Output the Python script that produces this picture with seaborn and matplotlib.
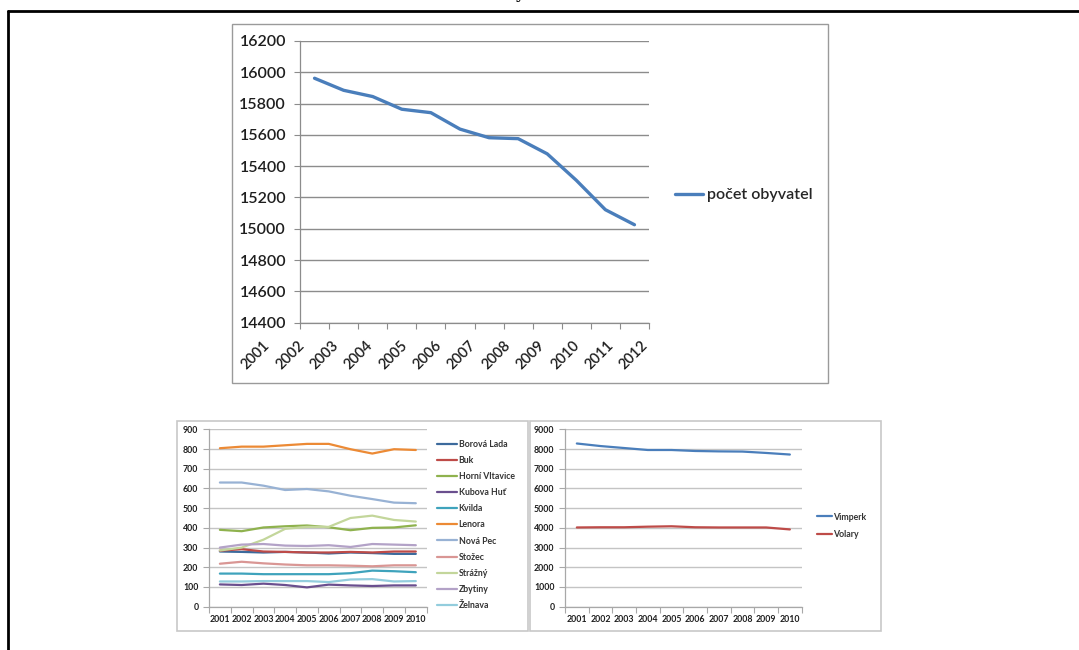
import numpy as np
import pandas as pd
import matplotlib
matplotlib.use("Agg")
import matplotlib.pyplot as plt
import seaborn as sns
from matplotlib.patches import Rectangle
from matplotlib.lines import Line2D
from matplotlib.transforms import ScaledTranslation

# --- population of the whole micro-region, 2001-2012 ---
years_total = ["2001", "2002", "2003", "2004", "2005", "2006",
               "2007", "2008", "2009", "2010", "2011", "2012"]
population_total = [15962, 15885, 15845, 15764, 15742, 15637,
                    15582, 15576, 15479, 15310, 15122, 15026]

# --- smaller municipalities, 2001-2010 ---
years_towns = ["2001", "2002", "2003", "2004", "2005",
               "2006", "2007", "2008", "2009", "2010"]
village_names = ["Borová Lada", "Buk", "Horní Vltavice", "Kubova Huť", "Kvilda",
                 "Lenora", "Nová Pec", "Stožec", "Strážný", "Zbytiny", "Želnava"]
borova_lada = [280, 278, 275, 278, 275, 270, 275, 272, 268, 268]
buk = [284, 292, 280, 278, 275, 275, 278, 275, 280, 280]
horni_vltavice = [390, 383, 402, 408, 412, 403, 388, 400, 402, 413]
kubova_hut = [113, 110, 117, 110, 98, 112, 108, 105, 108, 108]
kvilda = [168, 168, 165, 165, 165, 165, 170, 183, 180, 175]
lenora = [804, 812, 812, 819, 826, 826, 799, 777, 799, 795]
nova_pec = [630, 630, 614, 592, 597, 585, 563, 546, 528, 525]
stozec = [218, 228, 220, 214, 210, 210, 208, 205, 210, 210]
strazny = [285, 300, 340, 395, 405, 405, 450, 462, 440, 432]
zbytiny = [300, 315, 318, 310, 308, 312, 303, 318, 315, 312]
zelnava = [128, 128, 130, 130, 130, 125, 138, 140, 128, 130]
village_colors = ["#3C6A9C", "#BE4B48", "#8FB24E", "#6A4F8E", "#3FA3BC",
                  "#EC8A35", "#98B2D4", "#D99694", "#C3D69B", "#B3A2C7", "#93CDDD"]

# --- the two towns, 2001-2010 ---
town_names = ["Vimperk", "Volary"]
vimperk = [8280, 8150, 8050, 7950, 7950, 7900, 7880, 7870, 7800, 7720]
volary = [4020, 4030, 4030, 4060, 4080, 4030, 4020, 4020, 4020, 3920]
town_colors = ["#4A7EBB", "#BE4B48"]

sns.set_style("white")
plt.rcParams["font.family"] = ["Lato", "DejaVu Sans"]

W, H = 1079, 650
fig = plt.figure(figsize=(W / 100, H / 100), dpi=100)
fig.patch.set_facecolor("white")


def px_axes(x0, y0, x1, y1):
    return fig.add_axes([x0 / W, 1 - y1 / H, (x1 - x0) / W, (y1 - y0) / H])


def frame(x0, y0, x1, y1, color, lw):
    fig.add_artist(Rectangle((x0 / W, 1 - y1 / H), (x1 - x0) / W, (y1 - y0) / H,
                             transform=fig.transFigure, fill=False,
                             edgecolor=color, linewidth=lw))


def excel_axes(ax, labels, ymin, ymax, ystep, grid_color, axis_color,
               fontsize, weight, ypad, xpad, rotation=0, xfontsize=None):
    n = len(labels)
    ax.set_xlim(-0.5, n - 0.5)
    ax.set_ylim(ymin, ymax)
    ax.set_yticks(np.arange(ymin, ymax + 1, ystep))
    ax.set_xticks(range(n))
    ax.set_xticklabels(labels)
    ax.set_xticks(np.arange(-0.5, n), minor=True)
    ax.tick_params(axis="x", which="major", length=0, pad=xpad,
                   labelsize=xfontsize or fontsize, labelcolor="#1E1E1E")
    ax.tick_params(axis="x", which="minor", length=4, width=0.8, color=axis_color,
                   direction="out", bottom=True)
    ax.tick_params(axis="y", length=4, width=0.8, color=axis_color, pad=ypad,
                   labelsize=fontsize, labelcolor="#1E1E1E", left=True)
    for lab in ax.get_xticklabels() + ax.get_yticklabels():
        lab.set_fontweight(weight)
    if rotation:
        for lab in ax.get_xticklabels():
            lab.set_rotation(rotation)
            lab.set_ha("right")
            lab.set_va("top")
            lab.set_rotation_mode("anchor")
    ax.grid(axis="y", color=grid_color, linewidth=1.0)
    ax.grid(axis="x", visible=False)
    ax.set_axisbelow(True)
    for side in ("top", "right"):
        ax.spines[side].set_visible(False)
    for side in ("left", "bottom"):
        ax.spines[side].set_color(axis_color)
        ax.spines[side].set_linewidth(0.9)
    ax.set_xlabel("")
    ax.set_ylabel("")
    ax.set_facecolor("none")


# page border
fig.add_artist(Line2D([8 / W, 8 / W], [0, 1 - 11 / H], transform=fig.transFigure,
                      color="black", linewidth=2.0))
fig.add_artist(Line2D([8 / W, 1.0], [1 - 11 / H, 1 - 11 / H], transform=fig.transFigure,
                      color="black", linewidth=2.0))
fig.text(520 / W, 1 + 2 / H, "y", ha="center", va="baseline", fontsize=12,
         family="DejaVu Serif", color="black")

# ---------- total population ----------
frame(232, 24, 828, 383, "#9A9A9A", 1.0)
ax_top = px_axes(300, 41, 649, 322.7)
df_total = pd.DataFrame({"pos": range(len(years_total)), "obyvatel": population_total})
sns.lineplot(data=df_total, x="pos", y="obyvatel", ax=ax_top, color="#4A7EBB",
             linewidth=2.4, label="počet obyvatel", legend=False)
excel_axes(ax_top, years_total, 14400, 16200, 200, "#8C8C8C", "#8C8C8C",
           11.5, "semibold", 6.0, 11.0, rotation=45, xfontsize=10.5)
# rotated year labels are laid out on a slightly wider pitch than the categories
for i, lab in enumerate(ax_top.get_xticklabels()):
    dx = -52.0 + 5.3 * i
    lab.set_transform(lab.get_transform()
                      + ScaledTranslation(dx / 100, 0, fig.dpi_scale_trans))
ax_top.legend(loc="center left", bbox_to_anchor=(675 / W, 1 - 195 / H),
              bbox_transform=fig.transFigure, frameon=False, handlelength=1.75,
              handletextpad=0.25, borderpad=0, borderaxespad=0,
              prop={"size": 11.5, "weight": "semibold"})

# ---------- municipalities ----------
frame(177, 421, 528, 630.7, "#C8C8C8", 1.2)
ax_v = px_axes(209, 429.3, 426.7, 606.7)
village_series = [borova_lada, buk, horni_vltavice, kubova_hut, kvilda, lenora,
                  nova_pec, stozec, strazny, zbytiny, zelnava]
df_v = pd.DataFrame([
    {"obec": name, "pos": i, "obyvatel": v}
    for name, series in zip(village_names, village_series)
    for i, v in enumerate(series)
])
sns.lineplot(data=df_v, x="pos", y="obyvatel", hue="obec", hue_order=village_names,
             palette=village_colors, linewidth=1.6, ax=ax_v)
excel_axes(ax_v, years_towns, 0, 900, 100, "#C4C4C4", "#A8A8A8",
           6.3, "bold", 3.6, 6)
leg = ax_v.get_legend()
handles, labels = leg.legend_handles, [t.get_text() for t in leg.get_texts()]
for h in handles:
    h.set_linewidth(1.6)
ax_v.legend(handles, labels, loc="upper left", bbox_to_anchor=(436.7 / W, 1 - 440.0 / H),
            bbox_transform=fig.transFigure, frameon=False, handlelength=2.3,
            handletextpad=0.2, borderpad=0, borderaxespad=0, labelspacing=0.81,
            prop={"size": 6.3, "weight": "bold"}, labelcolor="#333333")

# ---------- towns ----------
frame(530, 421, 880.7, 630.7, "#C8C8C8", 1.2)
ax_t = px_axes(565, 429.3, 801.7, 606.7)
df_t = pd.DataFrame([
    {"obec": name, "pos": i, "obyvatel": v}
    for name, series in zip(town_names, [vimperk, volary])
    for i, v in enumerate(series)
])
sns.lineplot(data=df_t, x="pos", y="obyvatel", hue="obec", hue_order=town_names,
             palette=town_colors, linewidth=1.6, ax=ax_t)
excel_axes(ax_t, years_towns, 0, 9000, 1000, "#C4C4C4", "#A8A8A8",
           6.3, "bold", 3.6, 6)
leg = ax_t.get_legend()
handles, labels = leg.legend_handles, [t.get_text() for t in leg.get_texts()]
for h in handles:
    h.set_linewidth(1.6)
ax_t.legend(handles, labels, loc="upper left", bbox_to_anchor=(816.7 / W, 1 - 512.5 / H),
            bbox_transform=fig.transFigure, frameon=False, handlelength=1.7,
            handletextpad=0.2, borderpad=0, borderaxespad=0, labelspacing=0.98,
            prop={"size": 6.3, "weight": "bold"}, labelcolor="#333333")

fig.savefig("out.png", dpi=100)
